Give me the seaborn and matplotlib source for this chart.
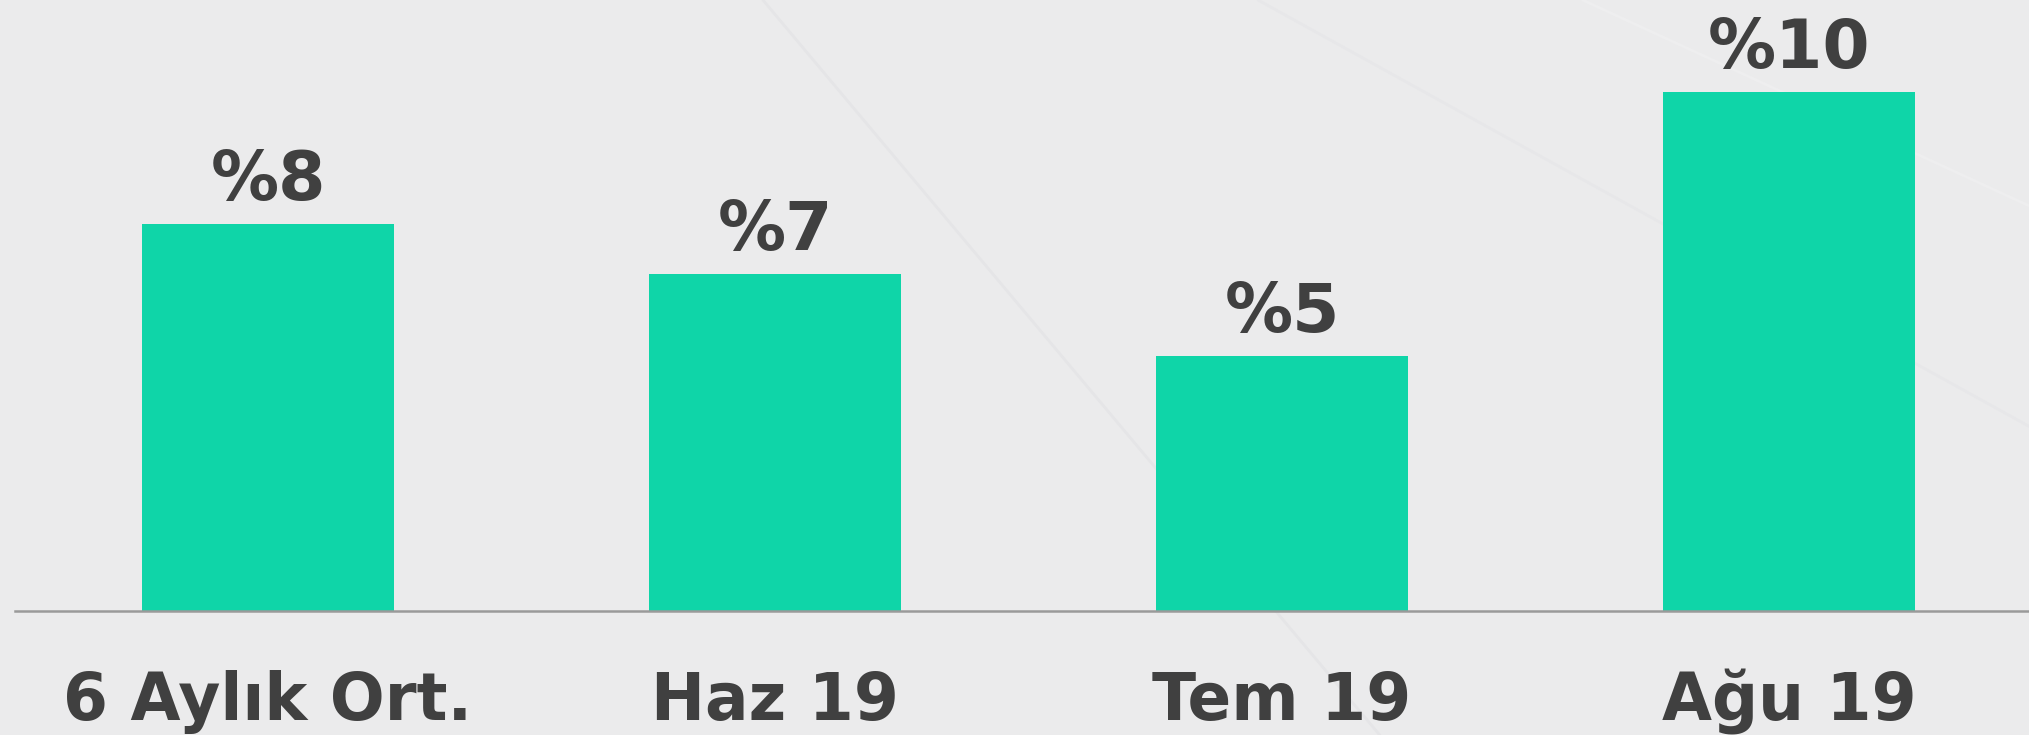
import matplotlib
matplotlib.use("Agg")
import matplotlib.pyplot as plt
from matplotlib.lines import Line2D
import pandas as pd
import seaborn as sns

categories = ["6 Aylık Ort.", "Haz 19", "Tem 19", "Ağu 19"]
values = [7.46, 6.49, 4.91, 10.0]
value_labels = ["%8", "%7", "%5", "%10"]

bar_color = "#0FD5A8"
text_color = "#404040"
bg_color = "#EBEBEC"

sns.set_style("white")
plt.rcParams["font.family"] = ["DejaVu Sans"]

df = pd.DataFrame({"period": categories, "value": values})

fig = plt.figure(figsize=(20.29, 7.35), dpi=100)
fig.patch.set_facecolor(bg_color)

# faint diagonal streaks in the backdrop
for xs, ys, c in [([0.376, 0.68], [1.0, 0.0], "#E5E5E7"),
                  ([0.62, 1.0], [1.0, 0.42], "#E7E7E9"),
                  ([0.78, 1.0], [1.0, 0.72], "#EEEEEF")]:
    fig.add_artist(Line2D(xs, ys, transform=fig.transFigure, color=c,
                          lw=2, zorder=0))

ax = fig.add_axes([0.0074, 0.1687, 0.9926, 0.8313])
ax.set_facecolor("none")

sns.barplot(data=df, x="period", y="value", color=bar_color, width=0.497,
            saturation=1, linewidth=0, ax=ax)

ax.set_xlim(-0.499, 3.473)
ax.set_ylim(0, 11.77)

for i, (v, lab) in enumerate(zip(values, value_labels)):
    ax.annotate(lab, (i, v), xytext=(0, 17.3), textcoords="offset points",
                ha="center", va="baseline", fontsize=49, fontweight="bold",
                color=text_color)

ax.set_xticks(range(len(categories)))
ax.set_xticklabels(categories, fontsize=46.5, fontweight="bold",
                   color=text_color)
for lbl in ax.get_xticklabels():
    lbl.set_verticalalignment("baseline")
ax.tick_params(axis="x", length=0, pad=78.5)
ax.set_yticks([])
ax.set_xlabel("")
ax.set_ylabel("")

for s in ["top", "right", "left"]:
    ax.spines[s].set_visible(False)
ax.spines["bottom"].set_color("#9A9A9A")
ax.spines["bottom"].set_linewidth(1.8)

fig.savefig("out.png", dpi=100, facecolor=fig.get_facecolor())
plt.close(fig)
